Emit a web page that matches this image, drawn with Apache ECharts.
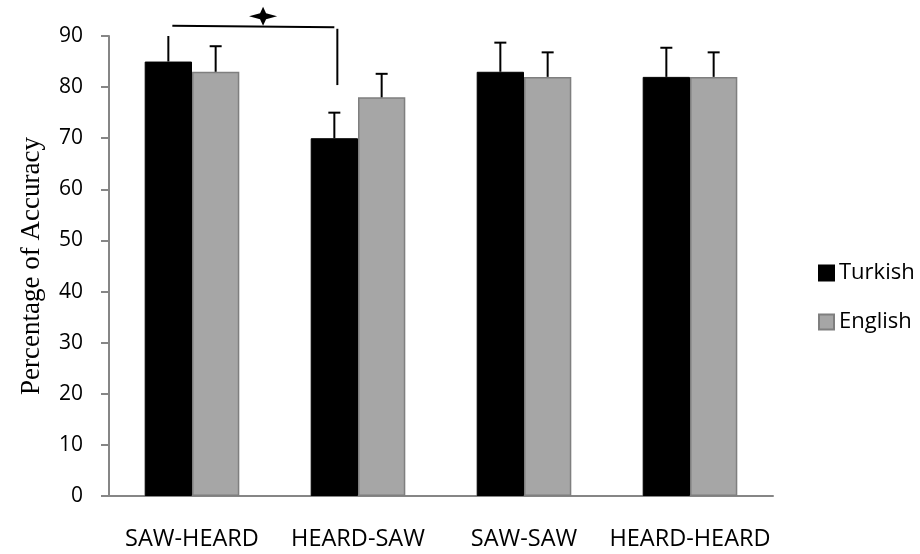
<!DOCTYPE html>
<html>
<head>
<meta charset="utf-8">
<script src="https://cdn.jsdelivr.net/npm/echarts@6/dist/echarts.min.js"></script>
<style>
html,body{margin:0;padding:0;background:#fff;}
#chart{width:920px;height:554px;}
</style>
</head>
<body>
<div id="chart"></div>
<script>
var categories = ['SAW-HEARD', 'HEARD-SAW', 'SAW-SAW', 'HEARD-HEARD'];
var seriesNames = ['Turkish', 'English'];
var turkish = [85, 70, 83, 82];
var english = [83, 78, 82, 82];
var turkishErr = [6, 5, 5.7, 5.7];
var englishErr = [5, 4.6, 4.8, 4.8];
var yTicks = [0, 10, 20, 30, 40, 50, 60, 70, 80, 90];
// significance bracket: from category, to category, bracket level, drop-to level
var sigFrom = [0];
var sigTo = [1];
var sigLevel = [92];
var sigDrop = [80.4];

var GAP = 0.43;
var chart = echarts.init(document.getElementById('chart'));

var errData = [];
turkish.forEach(function (v, i) { errData.push([i, v, turkishErr[i], 0]); });
english.forEach(function (v, i) { errData.push([i, v, englishErr[i], 1]); });

var sigData = sigFrom.map(function (f, i) { return [f, sigTo[i], sigLevel[i], sigDrop[i]]; });

function barOffset(api, s) {
  var band = api.size([1, 0])[0];
  var bw = band * (1 - GAP) / 2;
  return s === 0 ? -bw / 2 : bw / 2;
}

var option = {
  backgroundColor: '#ffffff',
  animation: false,
  grid: { left: 109, right: 147, top: 36, bottom: 58, containLabel: false },
  legend: {
    orient: 'vertical',
    left: 813,
    top: 257,
    itemWidth: 15,
    itemHeight: 15,
    itemGap: 27,
    icon: 'rect',
    textStyle: { fontFamily: 'Open Sans', fontSize: 22, color: '#000' },
    data: seriesNames
  },
  xAxis: {
    type: 'category',
    data: categories,
    axisLine: { lineStyle: { color: '#868686', width: 2 } },
    axisTick: { show: false },
    axisLabel: { color: '#000', fontFamily: 'Open Sans', fontSize: 23.5, margin: 31, interval: 0 }
  },
  yAxis: {
    type: 'value',
    min: yTicks[0],
    max: yTicks[yTicks.length - 1],
    interval: 10,
    name: 'Percentage of Accuracy',
    nameLocation: 'middle',
    nameGap: 64,
    nameTextStyle: { fontFamily: 'Liberation Serif', fontSize: 27, color: '#000' },
    splitLine: { show: false },
    axisLine: { show: true, lineStyle: { color: '#868686', width: 2 } },
    axisTick: { show: true, length: 8, lineStyle: { color: '#868686', width: 2 } },
    axisLabel: { color: '#000', fontFamily: 'Open Sans', fontSize: 21, margin: 26 }
  },
  series: [
    {
      name: seriesNames[0], type: 'bar', data: turkish,
      barGap: '0%', barCategoryGap: (GAP * 100) + '%',
      itemStyle: { color: '#000000', borderColor: '#000000', borderWidth: 1 }
    },
    {
      name: seriesNames[1], type: 'bar', data: english,
      barGap: '0%', barCategoryGap: (GAP * 100) + '%',
      itemStyle: { color: '#a6a6a6', borderColor: '#7f7f7f', borderWidth: 1.5 }
    },
    {
      type: 'custom', data: errData, clip: true, z: 5, silent: true,
      renderItem: function (params, api) {
        var s = api.value(3);
        var off = barOffset(api, s);
        var base = api.coord([api.value(0), api.value(1)]);
        var top = api.coord([api.value(0), api.value(1) + api.value(2)]);
        var x = base[0] + off;
        var st = { stroke: '#000', lineWidth: 2 };
        return {
          type: 'group',
          children: [
            { type: 'line', shape: { x1: x, y1: base[1], x2: x, y2: top[1] }, style: st },
            { type: 'line', shape: { x1: x - 6, y1: top[1], x2: x + 6, y2: top[1] }, style: st }
          ]
        };
      }
    },
    {
      type: 'custom', data: sigData, clip: false, z: 6, silent: true,
      renderItem: function (params, api) {
        var off = barOffset(api, 0);
        var p1 = api.coord([api.value(0), api.value(2)]);
        var p2 = api.coord([api.value(1), api.value(2)]);
        var pd = api.coord([api.value(1), api.value(3)]);
        var x1 = p1[0] + off + 4, x2 = p2[0] + off, y = p1[1];
        var xv = x2 + 3;
        var sx = x1 + (x2 - x1) * 0.56, sy = y - 9.5;
        var w = 14, h = 9.5, k = 3;
        var st = { stroke: '#000', lineWidth: 2 };
        return {
          type: 'group',
          children: [
            { type: 'line', shape: { x1: x1, y1: y, x2: x2, y2: y + 1.5 }, style: st },
            { type: 'line', shape: { x1: xv, y1: y + 3, x2: xv, y2: pd[1] }, style: st },
            { type: 'polygon', shape: { points: [
              [sx, sy - h], [sx + k, sy - k], [sx + w, sy], [sx + k, sy + k],
              [sx, sy + h], [sx - k, sy + k], [sx - w, sy], [sx - k, sy - k]
            ] }, style: { fill: '#000' } }
          ]
        };
      }
    }
  ]
};
chart.setOption(option);
</script>
</body>
</html>
